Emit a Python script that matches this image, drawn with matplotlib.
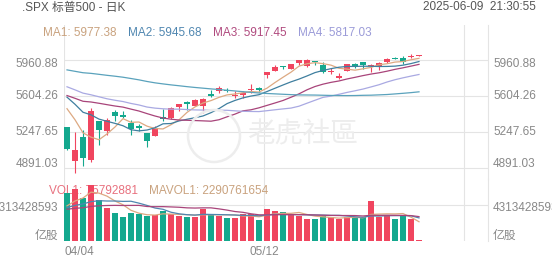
import matplotlib

matplotlib.use("Agg")
import matplotlib.pyplot as plt
import numpy as np
import pandas as pd
from matplotlib.patches import Ellipse

plt.rcParams["font.family"] = ["Liberation Sans", "Noto Sans CJK SC", "DejaVu Sans"]

W, H = 552, 265

# daily bars, 04/04 .. 06/09
OPEN = [5292.14, 4953.79, 5193.57, 4965.28, 5353.15, 5255.56, 5441.96, 5411.99, 5335.75, 5305.45,
        5232.94, 5207.67, 5395.93, 5381.38, 5489.73, 5529.22, 5508.87, 5499.44, 5625.14, 5650.00,
        5655.32, 5605.88, 5614.56, 5663.94, 5679.07, 5807.16, 5854.03, 5896.68, 5869.77, 5929.09,
        5902.88, 5944.66, 5910.88, 5841.26, 5781.89, 5854.07, 5925.62, 5939.96, 5903.67, 5896.68,
        5938.56, 5978.94, 5985.67, 5987.06, 6004.60]
HIGH = [5292.14, 5246.57, 5267.47, 5481.34, 5353.15, 5381.46, 5459.46, 5450.41, 5367.24, 5328.31,
        5232.94, 5309.60, 5469.69, 5489.40, 5528.11, 5553.66, 5571.95, 5581.84, 5658.91, 5700.70,
        5683.86, 5649.01, 5654.30, 5720.10, 5691.19, 5844.19, 5906.63, 5906.06, 5924.93, 5958.62,
        5968.61, 5953.06, 5938.37, 5878.08, 5829.51, 5924.33, 5929.00, 5943.13, 5922.14, 5937.40,
        5981.76, 5990.48, 5999.70, 6016.87, 6007.00]
LOW = [5069.90, 4835.04, 4910.42, 4948.43, 5115.27, 5220.77, 5358.02, 5386.44, 5220.79, 5255.58,
       5101.63, 5207.67, 5356.40, 5371.96, 5455.86, 5468.64, 5505.70, 5433.24, 5597.35, 5631.59,
       5644.65, 5587.58, 5578.64, 5635.90, 5644.94, 5777.74, 5852.42, 5868.32, 5867.44, 5907.36,
       5895.69, 5909.26, 5830.91, 5825.82, 5767.41, 5854.07, 5878.08, 5873.80, 5843.66, 5861.43,
       5929.00, 5966.11, 5921.20, 5978.63, 6003.50]
CLOSE = [5074.08, 5062.25, 4982.77, 5456.90, 5268.05, 5363.36, 5405.97, 5396.63, 5275.70, 5282.70,
         5158.20, 5287.76, 5375.86, 5484.77, 5525.21, 5528.75, 5560.83, 5569.06, 5604.14, 5686.67,
         5650.38, 5606.91, 5631.28, 5663.94, 5659.91, 5844.19, 5886.55, 5892.58, 5916.93, 5958.38,
         5963.60, 5940.46, 5844.61, 5842.01, 5802.82, 5921.54, 5888.55, 5912.17, 5911.69, 5935.94,
         5970.37, 5970.81, 5939.30, 6000.36, 6006.06]
# billions of shares
VOLUME_BN = [5.73, 6.24, 5.12, 6.73, 4.92, 3.91, 3.31, 2.83, 3.38, 3.19,
             2.98, 3.10, 3.59, 3.19, 3.02, 2.83, 2.83, 3.79, 3.19, 3.02,
             2.78, 2.78, 3.19, 3.19, 2.50, 3.79, 3.59, 3.43, 3.23, 3.02,
             2.58, 2.58, 3.02, 2.83, 2.62, 2.90, 2.70, 2.83, 4.83, 2.83,
             3.05, 2.65, 3.05, 2.63, 0.0758]

# sessions before 04/04, only used to seed the moving averages
PRE_CLOSE = [5918.25, 5827.04, 5836.22, 5842.91, 5949.91, 5937.34, 5996.66, 6049.24, 6086.37, 6118.71,
             6101.24, 6012.28, 6067.70, 6039.31, 6071.17, 6040.53, 5994.57, 6037.88, 6061.48, 6083.57,
             6025.99, 6066.44, 6068.50, 6051.97, 6115.07, 6114.63, 6129.58, 6144.15, 6117.52, 6013.13,
             5983.25, 5955.25, 5956.06, 5861.57, 5954.50, 5849.72, 5778.15, 5842.63, 5738.52, 5770.20,
             5614.56, 5572.07, 5599.30, 5521.52, 5638.94, 5675.12, 5614.66, 5675.29, 5662.89, 5667.56,
             5767.57, 5776.65, 5712.20, 5693.31, 5580.94, 5611.85, 5633.07, 5670.97, 5396.52]
PRE_VOLUME_BN = [4.0, 3.8, 3.5, 3.4, 3.2, 3.0, 3.1, 3.2, 3.1, 5.7,
                 3.6, 3.4, 3.9, 3.8, 4.3, 3.3, 3.3, 3.2, 5.5]

DATE_LABELS = ["04/04", "05/12"]
DATE_INDEX = [0, 25]
PRICE_TICKS = [5960.88, 5604.26, 5247.65, 4891.03]
VOLUME_TICK = 4313428593

MA_WINDOWS = [5, 10, 20, 30, 60]
MA_COLORS = ["#DDA982", "#3F7F9F", "#A8447A", "#A9A9E2", "#5AA2BC"]
MA_LABELS = ["MA1: 5977.38", "MA2: 5945.68", "MA3: 5917.45", "MA4: 5817.03"]
MA_LABEL_X = [43, 128, 213, 298]
MA_TEXT_COLORS = ["#C9A27E", "#4F86B0", "#B04A7E", "#9B9BD8"]
VOL_MA_WINDOWS = [5, 10, 20]
VOL_MA_COLORS = ["#DDA982", "#4F86B0", "#A8447A"]

UP = "#F0455F"
DOWN = "#14A88E"
GRID = "#E4E4E4"
LABEL = "#888888"


def box(left, top, right, bottom):
    return [left / W, 1 - bottom / H, (right - left) / W, (bottom - top) / H]


def moving_average(pre, values, window):
    series = pd.Series(list(pre) + list(values), dtype=float)
    return series.rolling(window).mean().to_numpy()[len(pre):]


def main():
    o, h, l, c = (np.asarray(v) for v in (OPEN, HIGH, LOW, CLOSE))
    volume = np.asarray(VOLUME_BN) * 1e9
    x = np.arange(len(c))
    colors = np.where(c >= o, UP, DOWN)

    fig = plt.figure(figsize=(W / 100, H / 100), dpi=100)
    price_ax = fig.add_axes(box(64, 25, 488, 179))
    vol_ax = fig.add_axes(box(64, 179, 488, 240.7))

    for ax in (price_ax, vol_ax):
        ax.set_xlim(-0.375, 52.625)
        ax.set_xticks([])
        ax.set_yticks([])
        ax.set_facecolor("none")
        for side in ("top", "bottom", "left"):
            ax.spines[side].set_visible(False)
        ax.spines["right"].set_color(GRID)
        ax.spines["right"].set_linewidth(0.8)
        for i in DATE_INDEX + [50]:
            ax.axvline(i - 0.35, color=GRID, lw=0.8, zorder=0)

    price_ax.set_ylim(4778.8, 6308.6)
    vol_ax.set_ylim(0, 7.455e9)

    for v in PRICE_TICKS:
        price_ax.axhline(v, color=GRID, lw=0.8, zorder=0)
    vol_ax.axhline(VOLUME_TICK, color=GRID, lw=0.8, zorder=0)

    # watermark
    fig.patches.append(Ellipse((214 / W, 1 - 136 / H), 52 / W, 52 / H, transform=fig.transFigure,
                               fill=False, edgecolor="#EDEDED", lw=1.8, zorder=0.5))
    fig.text(247 / W, 1 - 134 / H, "老虎社區", color="#EDEDED", fontsize=20,
             ha="left", va="center", zorder=0.5, family=["Noto Sans CJK TC"])

    # candles
    price_ax.vlines(x, l, h, colors=colors, lw=0.8, zorder=3)
    body = np.maximum(np.abs(c - o), 10)
    price_ax.bar(x, body, bottom=np.minimum(o, c), width=0.72, color=colors, lw=0, zorder=3)

    for window, color in zip(MA_WINDOWS, MA_COLORS):
        price_ax.plot(x, moving_average(PRE_CLOSE, c, window), color=color, lw=0.9, zorder=4)

    # volume
    vol_ax.annotate("VOL1: 75792881", xy=(49, H - 191), xycoords="figure pixels",
                    color="#E8707E", fontsize=8.5, va="center", zorder=1, annotation_clip=False)
    vol_ax.annotate("MAVOL1: 2290761654", xy=(149, H - 191), xycoords="figure pixels",
                    color="#C9A27E", fontsize=8.5, va="center", zorder=1, annotation_clip=False)
    vol_ax.bar(x, volume, width=0.75, color=colors, lw=0, zorder=2)
    pre_volume = np.asarray(PRE_VOLUME_BN) * 1e9
    for window, color in zip(VOL_MA_WINDOWS, VOL_MA_COLORS):
        vol_ax.plot(x, moving_average(pre_volume, volume, window), color=color, lw=0.9, zorder=4)

    # axis labels on both sides
    offsets = [-4, 0, 0, 4]
    for v, dy in zip(PRICE_TICKS, offsets):
        for xa, dx, ha in ((0, -6, "right"), (1, 5, "left")):
            price_ax.annotate(f"{v:.2f}", xy=(xa, v), xycoords=("axes fraction", "data"),
                              xytext=(dx, dy), textcoords="offset pixels", ha=ha, va="center",
                              color=LABEL, fontsize=8.5, annotation_clip=False)
    for xa, dx, ha in ((0, -6, "right"), (1, 5, "left")):
        vol_ax.annotate(str(VOLUME_TICK), xy=(xa, VOLUME_TICK), xycoords=("axes fraction", "data"),
                        xytext=(dx, -3), textcoords="offset pixels", ha=ha, va="center",
                        color=LABEL, fontsize=8.5, annotation_clip=False)
        vol_ax.annotate("亿股", xy=(xa, 0), xycoords=("axes fraction", "data"),
                        xytext=(dx, 5), textcoords="offset pixels", ha=ha, va="center",
                        color=LABEL, fontsize=8.5, annotation_clip=False)

    for label, i, ha in zip(DATE_LABELS, DATE_INDEX, ("left", "center")):
        vol_ax.annotate(label, xy=(i - 0.35, 0), xycoords=("data", "axes fraction"),
                        xytext=(0, -11.5), textcoords="offset pixels", ha=ha, va="center",
                        color=LABEL, fontsize=8.5, annotation_clip=False)

    # header
    fig.text(22 / W, 1 - 7.5 / H, ".SPX 标普500 - 日K", color="#555555", fontsize=8.5,
             ha="left", va="center")
    fig.text(536 / W, 1 - 7.5 / H, "2025-06-09  21:30:55", color="#555555", fontsize=8.5,
             ha="right", va="center")
    for text, px, color in zip(MA_LABELS, MA_LABEL_X, MA_TEXT_COLORS):
        fig.text(px / W, 1 - 33.5 / H, text, color=color, fontsize=8.5, ha="left", va="center")

    fig.savefig("out.png", dpi=100, facecolor="white")


if __name__ == "__main__":
    main()
